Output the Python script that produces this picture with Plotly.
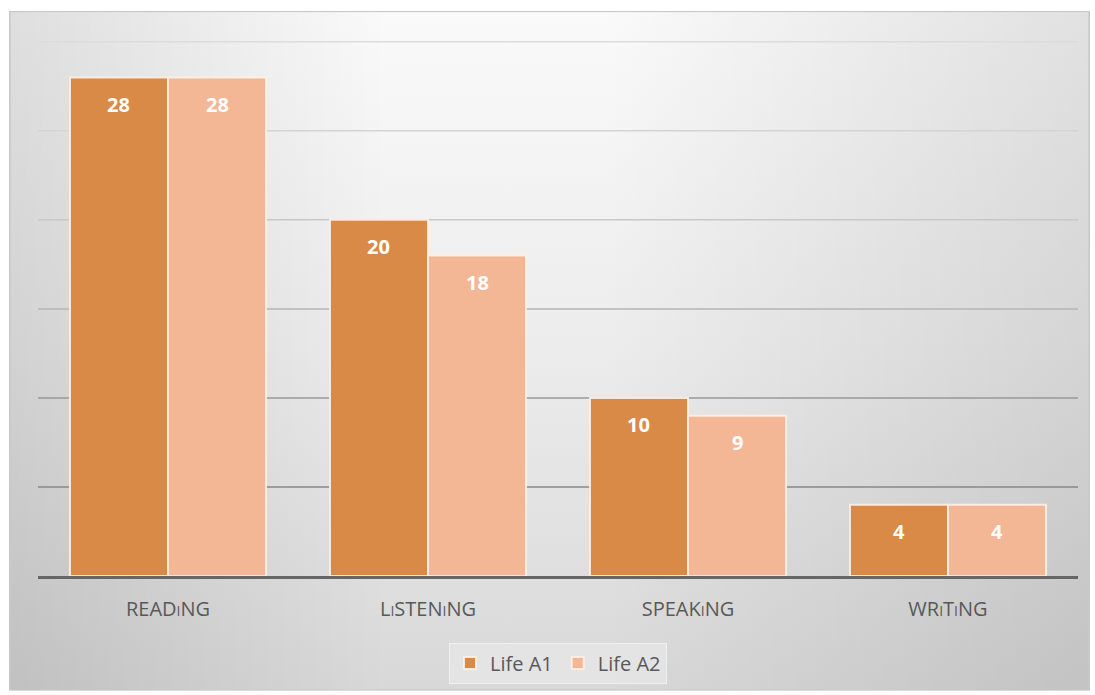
import base64
import plotly.graph_objects as go

# ---- data ----
categories = ["READ<span style='font-size:14px'>I</span>NG",
              "L<span style='font-size:14px'>I</span>STEN<span style='font-size:14px'>I</span>NG",
              "SPEAK<span style='font-size:14px'>I</span>NG",
              "WR<span style='font-size:14px'>I</span>T<span style='font-size:14px'>I</span>NG"]
series_names = ["Life A1", "Life A2"]
life_a1 = [28, 20, 10, 4]
life_a2 = [28, 18, 9, 4]
grid_values = [5, 10, 15, 20, 25, 30]

# ---- styles ----
colors = ["#DA8A47", "#F4B796"]
grid_colors = ["#878787", "#999999", "#b4b4b4", "#c8c8c8", "#d4d4d4", "#dcdcdc"]
BARGAP = 0.246

svg = """<svg xmlns='http://www.w3.org/2000/svg' width='100' height='100' preserveAspectRatio='none' viewBox='0 0 100 100'>
<defs>
<linearGradient id='v' x1='0' y1='0' x2='0' y2='1'>
<stop offset='0' stop-color='rgb(250,250,250)'/>
<stop offset='0.5' stop-color='rgb(236,236,236)'/>
<stop offset='1' stop-color='rgb(216,216,216)'/>
</linearGradient>
<linearGradient id='h' x1='0' y1='0' x2='1' y2='0'>
<stop offset='0' stop-color='rgb(0,0,0)' stop-opacity='0.11'/>
<stop offset='0.35' stop-color='rgb(0,0,0)' stop-opacity='0.0'/>
<stop offset='0.55' stop-color='rgb(0,0,0)' stop-opacity='0.0'/>
<stop offset='1' stop-color='rgb(0,0,0)' stop-opacity='0.10'/>
</linearGradient>
</defs>
<rect x='0' y='0' width='100' height='100' fill='url(#v)'/>
<rect x='0' y='0' width='100' height='100' fill='url(#h)'/>
<rect x='0' y='0' width='100' height='100' fill='none' stroke='rgb(200,200,200)' stroke-width='0.3'/>
</svg>"""
bg_src = "data:image/svg+xml;base64," + base64.b64encode(svg.encode()).decode()

fig = go.Figure()
for name, vals, col in zip(series_names, [life_a1, life_a2], colors):
    fig.add_trace(go.Bar(
        x=list(range(len(categories))), y=vals, name=name,
        marker=dict(color=col, line=dict(color="rgba(255,240,228,0.9)", width=2)),
        hoverinfo="skip",
    ))

# value labels
half = (1 - BARGAP) / 4
for k, vals in enumerate([life_a1, life_a2]):
    off = -half if k == 0 else half
    for i, v in enumerate(vals):
        fig.add_annotation(x=i + off, y=v, text=f"<b>{v}</b>", showarrow=False,
                           yshift=-27, xref="x", yref="y",
                           font=dict(family="Open Sans", size=20, color="white"))

# gridlines
for gv, gc in zip(grid_values, grid_colors):
    fig.add_shape(type="line", xref="paper", yref="y", x0=0, x1=1, y0=gv, y1=gv,
                  line=dict(color=gc, width=1.5), layer="below")

L, R, T, B = 38, 17, 40, 117
W, H = 1095, 695
pw, ph = W - L - R, H - T - B
x0p = (9 - L) / pw
x1p = (1090 - L) / pw
y0p = (H - B - 11) / ph
y1p = (H - B - 693) / ph
fig.add_layout_image(source=bg_src, xref="paper", yref="paper", x=x0p, y=y0p,
                     sizex=x1p - x0p, sizey=y0p - y1p, sizing="stretch",
                     xanchor="left", yanchor="top", layer="below")

fig.update_layout(
    width=W, height=H,
    margin=dict(l=L, r=R, t=T, b=B),
    paper_bgcolor="white", plot_bgcolor="rgba(0,0,0,0)",
    barmode="group", bargap=BARGAP, bargroupgap=0,
    font=dict(family="Open Sans", color="#595959"),
    xaxis=dict(tickmode="array", tickvals=list(range(len(categories))), ticktext=categories,
               range=[-0.5, len(categories) - 0.5], showgrid=False, zeroline=False,
               showline=True, linecolor="#666666", linewidth=3,
               tickfont=dict(family="Open Sans", size=20, color="#595959"), ticks="",
               ticklabelstandoff=13),
    yaxis=dict(range=[0, 30.1], showgrid=False, zeroline=False, showticklabels=False),
    legend=dict(orientation="h", x=0.5, xanchor="center", y=(H - B - 686) / ph, yanchor="bottom",
                bgcolor="rgba(228,228,228,0.9)", bordercolor="rgba(240,240,240,1)", borderwidth=1,
                font=dict(family="Open Sans", size=20, color="#595959"),
                itemwidth=30),
    showlegend=True,
)
fig.write_html("out.html")
